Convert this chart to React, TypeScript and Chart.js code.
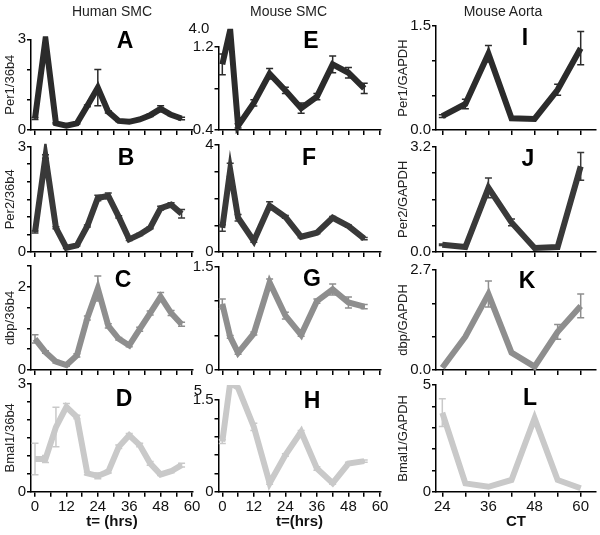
import React, { useEffect, useRef } from "react";
import { Chart, registerables } from "chart.js";
Chart.register(...registerables);

// ---------- DATA ----------
const humanTimes = [0, 4, 8, 12, 16, 20, 24, 28, 32, 36, 40, 44, 48, 52, 56];
const mouseTimes = [0, 3, 6, 12, 18, 24, 30, 36, 42, 48, 54];
const aortaCT = [24, 30, 36, 42, 48, 54, 60];

const per1Human = [0.38, 3.0, 0.22, 0.14, 0.22, 0.8, 1.4, 0.6, 0.3, 0.27, 0.35, 0.49, 0.7, 0.5, 0.38];
const per1HumanErr = [0.03, 0, 0.02, 0.02, 0.02, 0.03, 0.6, 0.04, 0.02, 0.02, 0.03, 0.04, 0.1, 0.03, 0.04];
const per2Human = [0.57, 2.72, 0.69, 0.12, 0.19, 0.74, 1.54, 1.6, 1.0, 0.36, 0.5, 0.69, 1.25, 1.35, 1.09];
const per2HumanErr = [0.03, 0.05, 0.03, 0.02, 0.02, 0.03, 0.08, 0.08, 0.03, 0.03, 0.03, 0.03, 0.05, 0.05, 0.12];
const dbpHuman = [0.75, 0.43, 0.2, 0.12, 0.35, 1.25, 1.96, 1.06, 0.75, 0.59, 0.98, 1.37, 1.76, 1.37, 1.1];
const dbpHumanErr = [0.1, 0.03, 0.03, 0.03, 0.04, 0.05, 0.3, 0.05, 0.03, 0.03, 0.05, 0.05, 0.1, 0.06, 0.05];
const bmal1Human = [0.91, 0.91, 1.8, 2.36, 2.08, 0.51, 0.44, 0.56, 1.25, 1.57, 1.3, 0.79, 0.48, 0.57, 0.74];
const bmal1HumanErr = [0.44, 0.1, 0.55, 0.1, 0.05, 0.04, 0.08, 0.04, 0.05, 0.05, 0.05, 0.05, 0.03, 0.04, 0.05];

const per1Mouse = [1.03, 1.36, 0.44, 0.66, 0.94, 0.78, 0.61, 0.72, 1.03, 0.95, 0.8];
const per1MouseErr = [0.1, 0, 0.02, 0.03, 0.05, 0.03, 0.05, 0.03, 0.08, 0.05, 0.05];
const per2Mouse = [0.9, 3.07, 1.28, 0.41, 1.73, 1.31, 0.57, 0.72, 1.28, 0.97, 0.5];
const per2MouseErr = [0.12, 0.25, 0.12, 0.05, 0.15, 0.05, 0.04, 0.04, 0.05, 0.04, 0.04];
const dbpMouse = [0.96, 0.48, 0.25, 0.53, 1.27, 0.79, 0.51, 1.0, 1.17, 0.98, 0.92];
const dbpMouseErr = [0.07, 0.02, 0.02, 0.02, 0.05, 0.05, 0.02, 0.03, 0.08, 0.08, 0.03];
const bmal1Mouse = [0.82, 1.78, 1.7, 1.06, 0.14, 0.6, 0.98, 0.38, 0.14, 0.46, 0.5];
const bmal1MouseErr = [0.03, 0, 0, 0.06, 0.02, 0.02, 0.02, 0.03, 0.02, 0.02, 0.02];

const per1Aorta = [0.2, 0.375, 1.1, 0.17, 0.16, 0.58, 1.18];
const per1AortaErr = [0.02, 0.07, 0.12, 0, 0, 0.08, 0.24];
const per2Aorta = [0.22, 0.15, 1.95, 0.9, 0.12, 0.15, 2.6];
const per2AortaErr = [0.02, 0, 0.3, 0.1, 0, 0, 0.42];
const dbpAorta = [0.06, 0.9, 2.05, 0.47, 0.09, 1.03, 1.73];
const dbpAortaErr = [0, 0, 0.35, 0, 0, 0.2, 0.32];
const bmal1Aorta = [3.7, 0.39, 0.23, 0.55, 3.44, 0.55, 0.16];
const bmal1AortaErr = [0.65, 0, 0, 0, 0, 0, 0];

// tick labels
const hoursTickLabels = [0, 12, 24, 36, 48, 60];
const ctTickLabels = [24, 36, 48, 60];
const columnTitles = ["Human SMC", "Mouse SMC", "Mouse Aorta"];
const panelLetters = ["A", "B", "C", "D", "E", "F", "G", "H", "I", "J", "K", "L"];
const yTickTexts: string[][] = [
  ["0", "3"], ["0", "3"], ["0", "2"], ["0", "3"],
  ["0.4", "1.2"], ["0", "4"], ["0", "1.5"], ["0", "1.5"],
  ["0.0", "1.5"], ["0.0", "3.2"], ["0.0", "2.7"], ["0", "5"],
];
const brokenAxisLabels = ["4.0", "5"];

// ---------- LAYOUT ----------
const FONT = "'Liberation Sans', Arial, Helvetica, sans-serif";
type Col = { left: number; width: number; plotLeft: number; plotRight: number; xMin: number; xMax: number };
const COLS: Col[] = [
  { left: 0, width: 203, plotLeft: 31, plotRight: 193, xMin: -1.53, xMax: 60.37 },
  { left: 186, width: 206, plotLeft: 218.5, plotRight: 380.5, xMin: -1.45, xMax: 60.2 },
  { left: 386, width: 214, plotLeft: 436, plotRight: 596, xMin: 22.36, xMax: 63.98 },
];
const ROWS = [
  { top: 0, bottom: 140, color: "#2b2b2b" },
  { top: 118, bottom: 262, color: "#393939" },
  { top: 238, bottom: 380, color: "#8e8e8e" },
  { top: 358, bottom: 535, color: "#c9c9c9" },
];

type PanelSpec = {
  col: number; row: number; plotTop: number; plotBottom: number;
  xs: number[]; ys: number[]; errs: number[];
  xStep: number; xLabels: number[]; xTitle?: string;
  yMin: number; yMax: number; yStep: number; yLabels: number[]; yTitle?: string;
  clipTop?: number;
};

const PANELS: PanelSpec[] = [
  { col: 0, row: 0, plotTop: 39.3, plotBottom: 131.7, xs: humanTimes, ys: per1Human, errs: per1HumanErr, xStep: 6, xLabels: [], yMin: 0, yMax: 3, yStep: 1, yLabels: [0, 3], yTitle: "Per1/36b4" },
  { col: 0, row: 1, plotTop: 146.7, plotBottom: 252.7, xs: humanTimes, ys: per2Human, errs: per2HumanErr, xStep: 6, xLabels: [], yMin: 0, yMax: 3, yStep: 0.5, yLabels: [0, 3], yTitle: "Per2/36b4" },
  { col: 0, row: 2, plotTop: 266, plotBottom: 371.7, xs: humanTimes, ys: dbpHuman, errs: dbpHumanErr, xStep: 6, xLabels: [], yMin: 0, yMax: 2.5, yStep: 0.5, yLabels: [0, 2], yTitle: "dbp/36b4" },
  { col: 0, row: 3, plotTop: 384, plotBottom: 491.7, xs: humanTimes, ys: bmal1Human, errs: bmal1HumanErr, xStep: 6, xLabels: hoursTickLabels, xTitle: "t= (hrs)", yMin: 0, yMax: 3, yStep: 0.5, yLabels: [0, 3], yTitle: "Bmal1/36b4" },
  { col: 1, row: 0, plotTop: 46.7, plotBottom: 132.7, xs: mouseTimes, ys: per1Mouse, errs: per1MouseErr, xStep: 6, xLabels: [], yMin: 0.4, yMax: 1.2, yStep: 0.4, yLabels: [0.4, 1.2], clipTop: 18 },
  { col: 1, row: 1, plotTop: 145, plotBottom: 252.7, xs: mouseTimes, ys: per2Mouse, errs: per2MouseErr, xStep: 6, xLabels: [], yMin: 0, yMax: 4, yStep: 1, yLabels: [0, 4] },
  { col: 1, row: 2, plotTop: 266.7, plotBottom: 372.3, xs: mouseTimes, ys: dbpMouse, errs: dbpMouseErr, xStep: 6, xLabels: [], yMin: 0, yMax: 1.5, yStep: 0.5, yLabels: [0, 1.5] },
  { col: 1, row: 3, plotTop: 400, plotBottom: 491.7, xs: mouseTimes, ys: bmal1Mouse, errs: bmal1MouseErr, xStep: 6, xLabels: hoursTickLabels, xTitle: "t=(hrs)", yMin: 0, yMax: 1.5, yStep: 0.3, yLabels: [0, 1.5], clipTop: 15 },
  { col: 2, row: 0, plotTop: 26, plotBottom: 130, xs: aortaCT, ys: per1Aorta, errs: per1AortaErr, xStep: 6, xLabels: [], yMin: 0, yMax: 1.5, yStep: 0.5, yLabels: [0, 1.5], yTitle: "Per1/GAPDH" },
  { col: 2, row: 1, plotTop: 146.7, plotBottom: 253.3, xs: aortaCT, ys: per2Aorta, errs: per2AortaErr, xStep: 6, xLabels: [], yMin: 0, yMax: 3.2, yStep: 0.8, yLabels: [0, 3.2], yTitle: "Per2/GAPDH" },
  { col: 2, row: 2, plotTop: 270, plotBottom: 372.3, xs: aortaCT, ys: dbpAorta, errs: dbpAortaErr, xStep: 6, xLabels: [], yMin: 0, yMax: 2.7, yStep: 0.9, yLabels: [0, 2.7], yTitle: "dbp/GAPDH" },
  { col: 2, row: 3, plotTop: 385, plotBottom: 491.7, xs: aortaCT, ys: bmal1Aorta, errs: bmal1AortaErr, xStep: 6, xLabels: ctTickLabels, xTitle: "CT", yMin: 0, yMax: 5, yStep: 1, yLabels: [0, 5], yTitle: "Bmal1/GAPDH" },
];

const LETTER_POS = [
  [125, 40], [126, 157], [123, 279], [124, 398],
  [311, 40], [309, 157], [312, 278], [312, 400],
  [525, 37], [528, 158], [527, 280], [530, 397],
];
const TITLE_POS = [[112, 11], [288.5, 11], [503, 11]];
const BROKEN_POS = [[199, 27], [198, 389]];

const errorBarPlugin = {
  id: "errbars",
  afterDatasetsDraw(chart: any) {
    const ds = chart.data.datasets[0];
    const errs: number[] = ds.errors;
    if (!errs) return;
    const xs = chart.scales.x, ys = chart.scales.y;
    const ctx = chart.ctx;
    ctx.save();
    ctx.strokeStyle = ds.borderColor;
    ctx.lineWidth = 1.5;
    ds.data.forEach((p: any, i: number) => {
      const e = errs[i];
      if (!e) return;
      const px = xs.getPixelForValue(p.x);
      const y1 = ys.getPixelForValue(p.y + e);
      const y2 = ys.getPixelForValue(p.y - e);
      ctx.beginPath();
      ctx.moveTo(px, y1); ctx.lineTo(px, y2);
      ctx.moveTo(px - 3.5, y1); ctx.lineTo(px + 3.5, y1);
      ctx.moveTo(px - 3.5, y2); ctx.lineTo(px + 3.5, y2);
      ctx.stroke();
    });
    ctx.restore();
  },
};

const idxOf = (arr: number[], v: number) => arr.findIndex((a) => Math.abs(a - v) < 1e-6);

function Panel({ spec, texts }: { spec: PanelSpec; texts: string[] }) {
  const ref = useRef<HTMLCanvasElement>(null);
  const col = COLS[spec.col];
  const row = ROWS[spec.row];
  const w = col.width;
  const h = row.bottom - row.top;
  useEffect(() => {
    const yW = col.plotLeft - col.left;
    const xH = row.bottom - spec.plotBottom;
    const axisGrid = { display: true, drawOnChartArea: false, drawTicks: true, tickLength: 5, color: "#000", lineWidth: 1.5 };
    const chart = new Chart(ref.current as HTMLCanvasElement, {
      type: "line",
      data: {
        datasets: [
          {
            data: spec.xs.map((x, i) => ({ x, y: spec.ys[i] })),
            borderColor: row.color,
            backgroundColor: row.color,
            borderWidth: 6,
            pointRadius: 0,
            tension: 0,
            fill: false,
            clip: spec.clipTop ? { top: spec.clipTop, left: 4, right: 4, bottom: 4 } : 3,
            errors: spec.errs,
          } as any,
        ],
      },
      options: {
        responsive: false,
        animation: false,
        devicePixelRatio: 1,
        events: [],
        layout: { padding: { top: spec.plotTop - row.top, left: 0, right: col.left + w - col.plotRight, bottom: 0 } },
        plugins: { legend: { display: false }, tooltip: { enabled: false } },
        scales: {
          x: {
            type: "linear",
            min: col.xMin,
            max: col.xMax,
            afterFit: (s: any) => { s.height = xH; },
            ticks: {
              stepSize: spec.xStep,
              autoSkip: false,
              includeBounds: false,
              maxRotation: 0,
              padding: 1,
              color: "#111",
              font: { family: FONT, size: 15 },
              callback: (v: any) => (idxOf(spec.xLabels, Number(v)) >= 0 ? String(Math.round(Number(v))) : ""),
            },
            grid: axisGrid,
            border: { display: true, color: "#000", width: 1.5 },
            title: spec.xTitle
              ? { display: true, text: spec.xTitle, color: "#111", font: { family: FONT, size: 15, weight: "bold" }, padding: { top: 0, bottom: 4 } }
              : { display: false },
          },
          y: {
            type: "linear",
            min: spec.yMin,
            max: spec.yMax,
            afterFit: (s: any) => { s.width = yW; },
            ticks: {
              stepSize: spec.yStep,
              autoSkip: false,
              padding: 1,
              color: "#111",
              font: { family: FONT, size: 15 },
              callback: (v: any) => {
                const k = idxOf(spec.yLabels, Number(v));
                return k >= 0 ? texts[k] : "";
              },
            },
            grid: { ...axisGrid, tickLength: 4 },
            border: { display: true, color: "#000", width: 1.5 },
            title: spec.yTitle
              ? { display: true, text: spec.yTitle, color: "#222", font: { family: FONT, size: 13 }, padding: { top: spec.col === 0 ? 2.2 : 9.2, bottom: 0 } }
              : { display: false },
          },
        },
      } as any,
      plugins: [errorBarPlugin],
    });
    return () => chart.destroy();
  }, []);
  return (
    <canvas
      ref={ref}
      width={w}
      height={h}
      style={{ position: "absolute", left: col.left, top: row.top, width: w, height: h }}
    />
  );
}

function Txt({ x, y, children, style }: { x: number; y: number; children: any; style?: any }) {
  return (
    <div
      style={{
        position: "absolute",
        left: x,
        top: y,
        transform: "translate(-50%, -50%)",
        lineHeight: 1,
        whiteSpace: "nowrap",
        fontFamily: FONT,
        ...style,
      }}
    >
      {children}
    </div>
  );
}

export default function App() {
  return (
    <div style={{ position: "absolute", left: 0, top: 0, width: 600, height: 535, background: "#fff", overflow: "hidden" }}>
      {PANELS.map((p, i) => (
        <Panel key={i} spec={p} texts={yTickTexts[i]} />
      ))}
      {columnTitles.map((t, i) => (
        <Txt key={t} x={TITLE_POS[i][0]} y={TITLE_POS[i][1]} style={{ fontSize: 14, color: "#222" }}>
          {t}
        </Txt>
      ))}
      {panelLetters.map((l, i) => (
        <Txt key={l} x={LETTER_POS[i][0]} y={LETTER_POS[i][1]} style={{ fontSize: 23, fontWeight: "bold", color: "#000" }}>
          {l}
        </Txt>
      ))}
      {brokenAxisLabels.map((t, i) => (
        <Txt key={t} x={BROKEN_POS[i][0]} y={BROKEN_POS[i][1]} style={{ fontSize: 15, color: "#111" }}>
          {t}
        </Txt>
      ))}
    </div>
  );
}
